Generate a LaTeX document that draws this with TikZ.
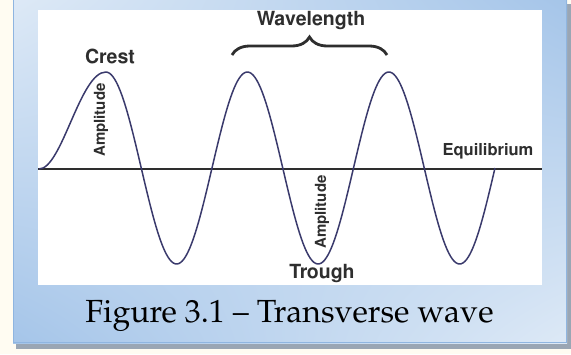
\documentclass[tikz,border=0pt]{standalone}
\usepackage[T1]{fontenc}
\usetikzlibrary{decorations.pathreplacing,shadings}
\definecolor{cream}{HTML}{FFFCF2}
\definecolor{boxlight}{HTML}{DDE9F6}
\definecolor{boxdark}{HTML}{A5C5E9}
\definecolor{boxedge}{HTML}{8FB5E0}
\definecolor{shadowc}{HTML}{9AA6B4}
\definecolor{wavec}{HTML}{3A3A6C}
\definecolor{labelc}{HTML}{2E2E2E}
\tikzset{
  lab/.style={text=labelc, inner sep=0pt},
  wave/.style={draw=wavec, line width=1.5pt, line join=round},
}
\newcommand{\hvb}[1]{\fontfamily{phv}\fontseries{b}\fontsize{#1}{#1}\selectfont}
\begin{document}
\begin{tikzpicture}[x=1pt,y=-1pt]
\useasboundingbox (0,0) rectangle (571,354);
\fill[cream] (0,0) rectangle (571,354);
% shadow
\fill[shadowc] (16,4) rectangle (571,349);
% blue box
\shade[upper left=boxlight, lower right=boxlight, lower left=boxdark, upper right=boxdark]
  (13,0) rectangle (567,343);
\draw[boxedge, line width=0.8pt] (13.4,0) -- (13.4,342.6) -- (566.6,342.6) -- (566.6,0);
% white panel
\fill[white] (38,10) rectangle (542,285);
% equilibrium line
\coordinate (eqL) at (38,169);
\coordinate (eqR) at (542,169);
\draw[labelc, line width=1.3pt] (eqL) -- (eqR);
% wave
\coordinate (w0) at (39,169);
\coordinate (p1) at (105.9,72);
\draw[wave] (w0) .. controls (62,169) and (80,72) .. (p1)
  -- plot[domain=105.9:495, samples=220] (\x, {168 - 96*sin(2.54417*(\x-212))});
% brace
\coordinate (bL) at (232,55);
\coordinate (bR) at (387,55);
\draw[labelc, line width=2.8pt, decorate, decoration={brace, amplitude=18pt}] (bL) -- (bR);
% labels
\node[lab, font=\hvb{19.5}, anchor=base] (wl) at (311,25) {Wavelength};
\node[lab, font=\hvb{19.5}, anchor=base] (crest) at (110,63) {Crest};
\node[lab, font=\hvb{16.5}, anchor=base] (eq) at (488,155) {Equilibrium};
\node[lab, font=\hvb{19.5}, anchor=base] (trough) at (322,278) {Trough};
\node[lab, font=\hvb{15}, rotate=90] (amp1) at (101,120) {Amplitude};
\node[lab, font=\hvb{15}, rotate=90] (amp2) at (322,212) {Amplitude};
% caption
\node[text=black, inner sep=0pt, anchor=base, font=\fontfamily{ppl}\selectfont\fontsize{32}{36}\selectfont] (cap) at (289.5,322.5) {Figure 3.1 -- Transverse wave};
\end{tikzpicture}
\end{document}
